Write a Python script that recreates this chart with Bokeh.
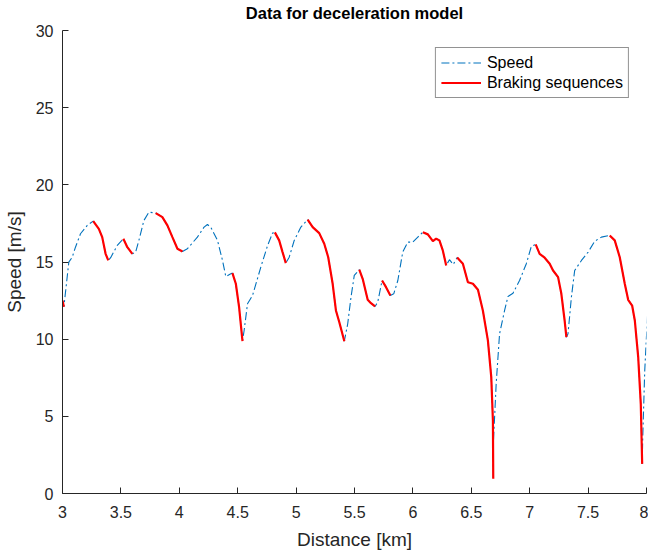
import numpy as np
from bokeh.plotting import figure
from bokeh.models import ColumnDataSource, FixedTicker, Legend, LegendItem, Title
from bokeh.embed import file_html
from bokeh.resources import INLINE

# Speed trace (distance in km, speed in m/s)
distance_km = [
    3.000, 3.012, 3.054, 3.083, 3.111, 3.154, 3.212, 3.263,
    3.311, 3.340, 3.369, 3.392,
    3.412, 3.469, 3.521,
    3.555, 3.598,
    3.626, 3.654, 3.697, 3.740, 3.798,
    3.855, 3.898, 3.941, 3.984, 4.027,
    4.069, 4.155, 4.212, 4.241, 4.269, 4.327, 4.370, 4.398, 4.441, 4.455,
    4.484, 4.512, 4.541,
    4.555, 4.584, 4.627, 4.698, 4.756, 4.798, 4.818,
    4.855, 4.884, 4.912,
    4.941, 4.984, 5.041, 5.099,
    5.142, 5.198, 5.241, 5.275, 5.313, 5.341, 5.370, 5.413,
    5.442, 5.470, 5.498, 5.541,
    5.570, 5.613, 5.641, 5.676,
    5.699, 5.736,
    5.770, 5.807,
    5.836, 5.871, 5.913, 5.956, 5.999, 6.042, 6.085,
    6.128, 6.171, 6.199, 6.227, 6.256, 6.285,
    6.313, 6.345,
    6.379, 6.428, 6.471, 6.514, 6.557, 6.599, 6.642, 6.671, 6.685, 6.688,
    6.690, 6.713, 6.742, 6.785, 6.814, 6.857, 6.913, 6.971, 7.014, 7.051,
    7.085, 7.128, 7.171, 7.200, 7.243, 7.271, 7.299, 7.314,
    7.328, 7.357, 7.385, 7.443, 7.500, 7.557, 7.614, 7.685,
    7.728, 7.771, 7.814, 7.843, 7.877, 7.900, 7.929, 7.951, 7.963,
    7.968, 7.985, 8.014,
]
speed_ms = [
    12.50, 12.10, 14.99, 15.31, 15.96, 16.83, 17.37, 17.65,
    17.15, 16.61, 15.53, 15.10,
    15.28, 16.07, 16.51,
    15.96, 15.53,
    15.64, 16.40, 17.69, 18.23, 18.17,
    17.91, 17.37, 16.61, 15.86, 15.68,
    15.86, 16.61, 17.26, 17.43, 17.26, 16.40, 15.10, 14.06, 14.24, 14.28,
    13.59, 12.07, 9.87,
    10.56, 12.29, 12.83, 14.67, 16.07, 16.87, 16.92,
    16.40, 15.64, 14.93,
    15.31, 16.40, 17.26, 17.74,
    17.26, 16.87, 16.18, 15.31, 13.59, 11.86, 11.10, 9.87,
    11.00, 12.72, 14.13, 14.50,
    13.91, 12.55, 12.33, 12.12,
    12.40, 13.80,
    13.37, 12.83,
    12.94, 13.80, 15.64, 16.29, 16.29, 16.61, 16.93,
    16.79, 16.35, 16.51, 16.40, 15.75, 14.78,
    15.15, 14.84,
    15.29, 14.89, 13.69, 13.59, 13.20, 11.86, 9.92, 7.54, 4.73, 0.95,
    3.43, 7.11, 10.35, 11.86, 12.77, 12.98, 13.80, 14.89, 16.01, 16.14,
    15.53, 15.28, 14.89, 14.45, 14.02, 12.94, 11.21, 10.13,
    10.35, 12.72, 14.45, 15.10, 15.64, 16.35, 16.61, 16.72,
    16.40, 15.31, 13.59, 12.55, 12.18, 11.21, 8.83, 5.81, 1.92,
    3.65, 7.97, 12.29,
]

# Braking sequences (start / end distance in km)
brake_start_km = [3.000, 3.263, 3.521, 3.798, 4.455, 4.818, 5.099, 5.541, 5.736, 6.085, 6.379, 7.051, 7.685]
brake_end_km   = [3.012, 3.392, 3.598, 4.027, 4.541, 4.912, 5.413, 5.676, 5.807, 6.285, 6.688, 7.314, 7.963]

x_ticks = [3, 3.5, 4, 4.5, 5, 5.5, 6, 6.5, 7, 7.5, 8]
y_ticks = [0, 5, 10, 15, 20, 25, 30]
title_text = "Data for deceleration model"

d = np.array(distance_km)
v = np.array(speed_ms)
xs, ys = [], []
for s, e in zip(brake_start_km, brake_end_km):
    m = (d >= s - 1e-9) & (d <= e + 1e-9)
    xs.append(d[m].tolist())
    ys.append(v[m].tolist())

FONT = "Liberation Sans"
AX = "#262626"

p = figure(width=648, height=553, output_backend="svg", toolbar_location=None,
           x_range=(3, 8), y_range=(0, 30),
           min_border_left=62, min_border_right=2, min_border_top=30, min_border_bottom=60)
p.title.text = title_text
p.title.align = "center"
p.title.text_font = FONT
p.title.text_font_size = "16.5px"
p.title.text_font_style = "bold"
p.title.text_color = "#000000"
p.title.standoff = 0

# small empty spacer between title and frame
p.add_layout(Title(text=" ", text_font_size="7px", standoff=0), "above")

p.xgrid.visible = False
p.ygrid.visible = False
p.outline_line_color = None
p.background_fill_color = "white"
p.border_fill_color = "white"

speed_src = ColumnDataSource(dict(x=distance_km, y=speed_ms))
r_speed = p.line("x", "y", source=speed_src, line_color="#0072BD", line_width=1.1,
                 line_dash="8 3 2 3")
brake_src = ColumnDataSource(dict(xs=xs, ys=ys))
r_brake = p.multi_line("xs", "ys", source=brake_src, line_color="#FF0000", line_width=2.2)

for ax, ticks, label in ((p.xaxis[0], x_ticks, "Distance [km]"), (p.yaxis[0], y_ticks, "Speed [m/s]")):
    ax.ticker = FixedTicker(ticks=ticks)
    ax.axis_label = label
    ax.axis_label_text_font = FONT
    ax.axis_label_text_font_size = "19px"
    ax.axis_label_text_font_style = "normal"
    ax.axis_label_text_color = AX
    ax.major_label_text_font = FONT
    ax.major_label_text_font_size = "16px"
    ax.major_label_text_color = AX
    ax.axis_line_color = AX
    ax.major_tick_line_color = AX
    ax.major_tick_in = 6
    ax.major_tick_out = 0
    ax.minor_tick_line_color = None

p.xaxis[0].major_label_standoff = 12
p.xaxis[0].axis_label_standoff = 8
p.yaxis[0].major_label_standoff = 9
p.yaxis[0].axis_label_standoff = 8
p.xaxis[0].major_label_overrides = {t: ("%g" % t) for t in x_ticks}

legend = Legend(items=[LegendItem(label="Speed", renderers=[r_speed]),
                       LegendItem(label="Braking sequences", renderers=[r_brake])],
                location="top_right")
legend.margin = 17
legend.padding = 5
legend.spacing = 1
legend.glyph_width = 40
legend.glyph_height = 19
legend.label_height = 19
legend.label_standoff = 6
legend.label_text_font = FONT
legend.label_text_font_size = "16px"
legend.label_text_color = "#000000"
legend.border_line_color = "#262626"
legend.border_line_width = 1
legend.background_fill_alpha = 1.0
p.add_layout(legend)

open("out.html", "w").write(file_html(p, INLINE))
